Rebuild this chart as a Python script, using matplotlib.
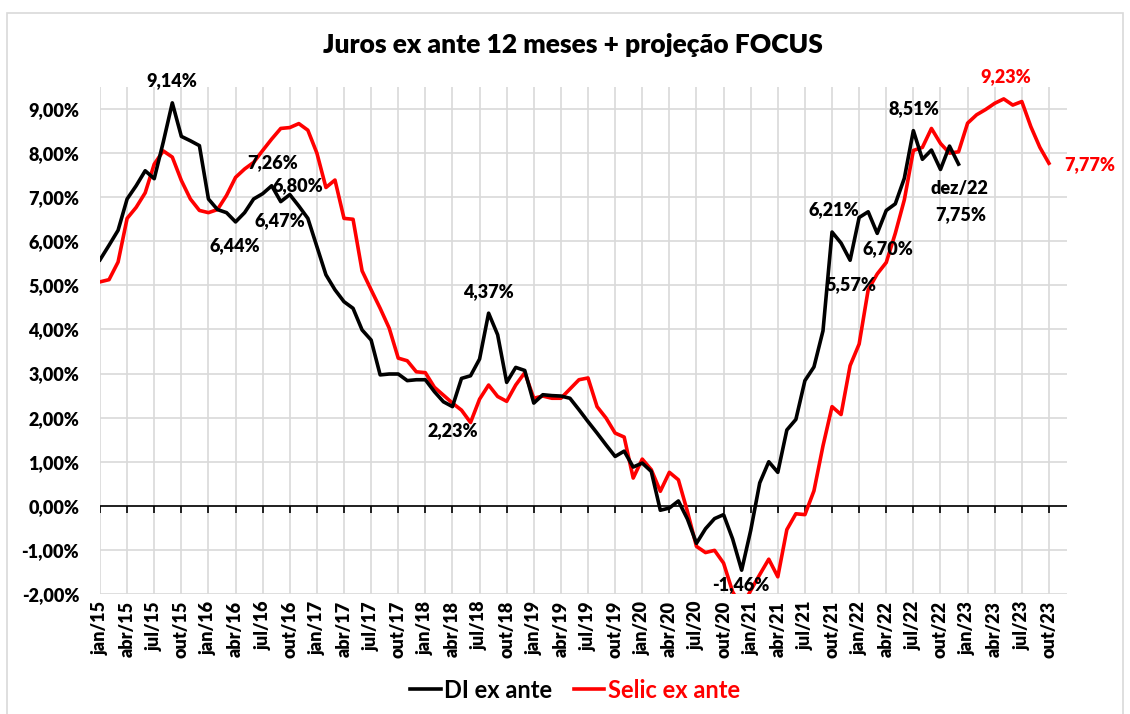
import matplotlib
matplotlib.use("Agg")
import matplotlib.pyplot as plt
from matplotlib.patches import Rectangle
from matplotlib.lines import Line2D

plt.rcParams['font.family'] = ['Lato', 'DejaVu Sans']

# monthly series, jan/15 onwards (% a.a.)
di_ex_ante = [
    5.58, 5.91, 6.25, 6.96, 7.26, 7.60, 7.42, 8.25, 9.14, 8.38, 8.28, 8.17,
    6.96, 6.72, 6.65, 6.44, 6.65, 6.96, 7.08, 7.26, 6.90, 7.06, 6.80, 6.52,
    5.88, 5.24, 4.90, 4.63, 4.48, 3.99, 3.76, 2.97, 2.99, 2.99, 2.84, 2.86,
    2.86, 2.59, 2.36, 2.25, 2.89, 2.95, 3.33, 4.37, 3.88, 2.80, 3.14, 3.07,
    2.33, 2.52, 2.50, 2.49, 2.44, 2.18, 1.91, 1.65, 1.38, 1.12, 1.24, 0.88,
    0.97, 0.78, -0.10, -0.05, 0.11, -0.30, -0.85, -0.52, -0.29, -0.20, -0.75, -1.46,
    -0.56, 0.52, 1.00, 0.76, 1.72, 1.96, 2.84, 3.15, 3.97, 6.21, 5.96, 5.57,
    6.54, 6.67, 6.18, 6.70, 6.85, 7.43, 8.51, 7.86, 8.07, 7.63, 8.16, 7.75,
]
selic_ex_ante = [
    5.08, 5.13, 5.53, 6.52, 6.77, 7.10, 7.75, 8.05, 7.91, 7.38, 6.96, 6.70,
    6.65, 6.72, 7.04, 7.45, 7.64, 7.79, 8.06, 8.32, 8.56, 8.58, 8.67, 8.52,
    8.00, 7.22, 7.39, 6.52, 6.50, 5.33, 4.90, 4.48, 4.03, 3.35, 3.29, 3.04,
    3.02, 2.69, 2.51, 2.33, 2.17, 1.89, 2.42, 2.74, 2.48, 2.37, 2.74, 3.02,
    2.44, 2.49, 2.44, 2.44, 2.65, 2.86, 2.90, 2.25, 1.99, 1.65, 1.56, 0.63,
    1.06, 0.82, 0.33, 0.76, 0.59, -0.13, -0.92, -1.06, -1.01, -1.30, -1.95, -2.30,
    -1.92, -1.56, -1.21, -1.61, -0.54, -0.18, -0.20, 0.34, 1.36, 2.25, 2.07, 3.18,
    3.67, 4.90, 5.26, 5.52, 6.18, 6.94, 8.06, 8.13, 8.56, 8.22, 8.00, 8.03,
    8.68, 8.87, 8.99, 9.13, 9.23, 9.09, 9.17, 8.60, 8.13, 7.77,
]
month_names = ['jan', 'fev', 'mar', 'abr', 'mai', 'jun',
               'jul', 'ago', 'set', 'out', 'nov', 'dez']
years = range(15, 24)
months = [f'{m}/{y}' for y in years for m in month_names]

# annotations: (text, month index, value, colour)
labels = [
    ('9,14%', 7.9, 9.64, 'black'),
    ('7,26%', 19.05, 7.78, 'black'),
    ('6,80%', 21.9, 7.26, 'black'),
    ('6,47%', 19.9, 6.46, 'black'),
    ('6,44%', 14.95, 5.90, 'black'),
    ('4,37%', 43.0, 4.85, 'black'),
    ('2,23%', 39.0, 1.70, 'black'),
    ('-1,46%', 70.9, -1.79, 'black'),
    ('6,21%', 81.2, 6.71, 'black'),
    ('6,70%', 87.2, 5.83, 'black'),
    ('5,57%', 83.1, 5.01, 'black'),
    ('8,51%', 90.1, 9.00, 'black'),
    ('dez/22', 95.1, 7.19, 'black'),
    ('7,75%', 95.2, 6.60, 'black'),
    ('9,23%', 100.2, 9.73, 'red'),
    ('7,77%', 109.5, 7.73, 'red'),
]

W, H = 1130, 714
fig = plt.figure(figsize=(W / 100, H / 100), dpi=100)
ax = fig.add_axes([100 / W, 1 - 594 / H, 967 / W, 507 / H])

# outer chart border
fig.patches.append(Rectangle((7 / W, -0.01), (1123 - 7) / W, 1 - 13 / H + 0.01,
                             transform=fig.transFigure, fill=False,
                             edgecolor='#d9d9d9', lw=1.2))

x_di = list(range(len(di_ex_ante)))
x_selic = list(range(len(selic_ex_ante)))
ax.plot(x_di, di_ex_ante, color='black', lw=2.6, zorder=4)
ax.plot(x_selic, selic_ex_ante, color='#ff0000', lw=2.6, zorder=3)

ax.set_xlim(0, 107)
ax.set_ylim(-2, 9.5)

xticks = list(range(0, len(months) - 2, 3))
ax.set_xticks(xticks)
ax.set_xticklabels([months[i] for i in xticks], rotation=90, fontsize=13,
                   fontweight='heavy')
yticks = list(range(-2, 10))
ax.set_yticks(yticks)
ax.set_yticklabels([f'{v:.2f}%'.replace('.', ',') for v in yticks],
                   fontsize=13, fontweight='heavy')
ax.tick_params(axis='both', length=0)
ax.tick_params(axis='y', pad=15)
ax.tick_params(axis='x', pad=5)

ax.grid(True, color='#d9d9d9', lw=1.2)
ax.set_axisbelow(True)
for s in ax.spines.values():
    s.set_visible(False)

# zero axis with tick marks
ax.axhline(0, color='black', lw=1.2, zorder=2)
ax.plot(xticks, [0] * len(xticks), ls='none', marker=3, ms=5,
        mew=1.2, color='black', zorder=2)

for txt, xv, yv, col in labels:
    ax.text(xv, yv, txt, ha='center', va='center', fontsize=13,
            fontweight='heavy', color=col, zorder=6, clip_on=False)

fig.text(573 / W, 1 - 45 / H, 'Juros ex ante 12 meses + projeção FOCUS',
         ha='center', va='center', fontsize=19, fontweight='heavy')

handles = [Line2D([], [], color='black', lw=2.6),
           Line2D([], [], color='#ff0000', lw=2.6)]
leg = fig.legend(handles, ['DI ex ante', 'Selic ex ante'], loc='center',
                 bbox_to_anchor=(575 / W, 1 - 690 / H), ncol=2, frameon=False,
                 handlelength=1.3, handletextpad=0.15, columnspacing=0.9,
                 prop={'family': ['Lato', 'DejaVu Sans'], 'size': 17,
                       'weight': 'bold'})
leg.get_texts()[1].set_color('#ff0000')

fig.savefig('out.png', dpi=100)
